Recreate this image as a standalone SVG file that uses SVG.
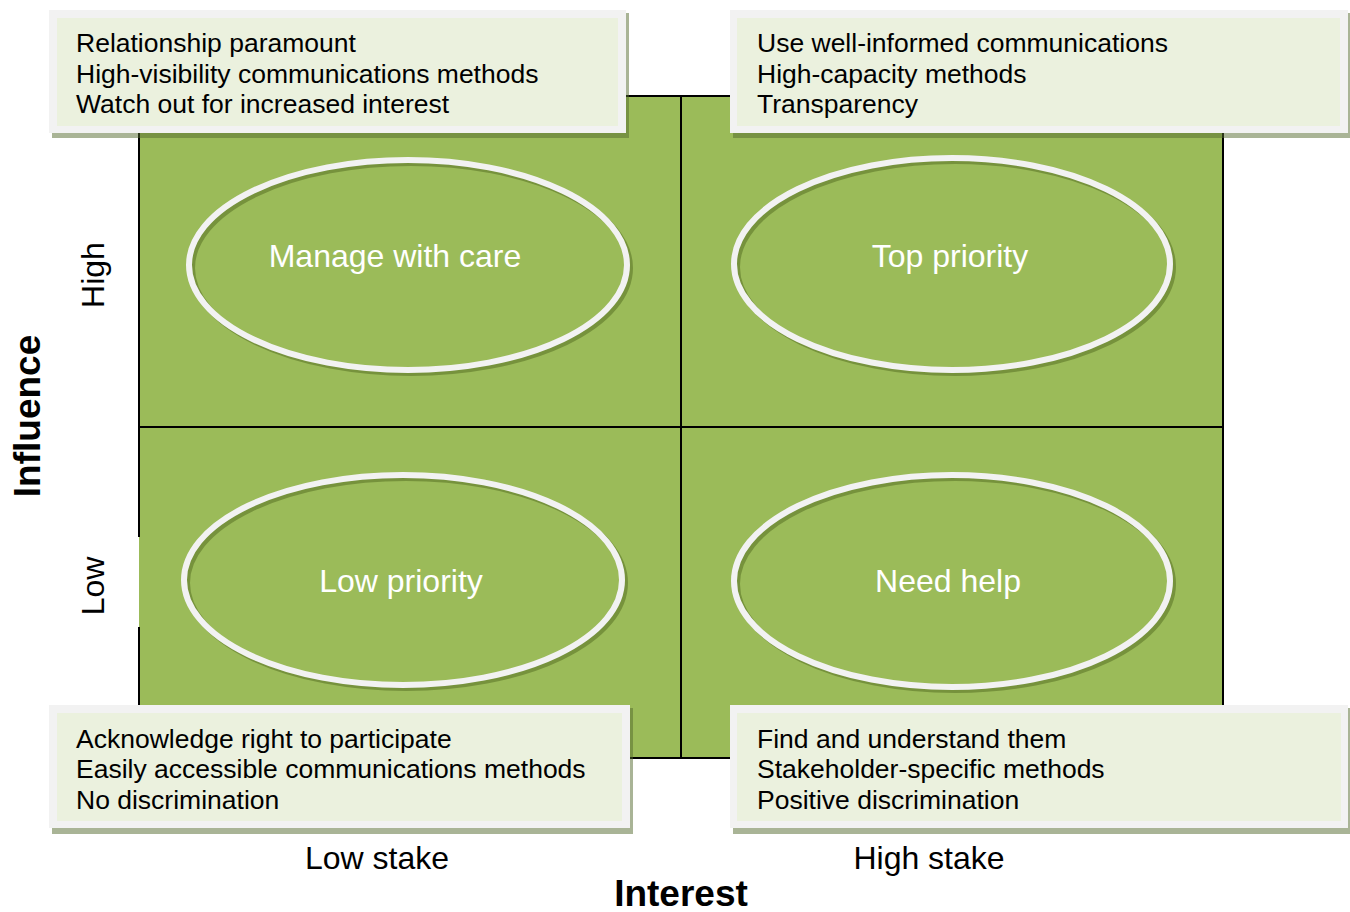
<svg xmlns="http://www.w3.org/2000/svg" width="1350" height="912" viewBox="0 0 1350 912">
  <style>
    .cell { fill: #9BBB59; }
    .rule { stroke: #000; stroke-width: 2; fill: none; }
    .ring-shadow { fill: none; stroke: #76923C; stroke-width: 6; }
    .ring { fill: none; stroke: #F2F2F2; stroke-width: 6; }
    .ring-text { font-family: "Liberation Sans", Arial, sans-serif; font-size: 32px; fill: #FFFFFF; text-anchor: middle; }
    .note-shadow { fill: rgba(83,105,45,0.5); }
    .note-frame { fill: #F2F2F2; }
    .note-fill { fill: #EBF1DE; }
    .note-text { font-family: "Liberation Sans", Arial, sans-serif; font-size: 26.5px; fill: #000; }
    .axis { font-family: "Liberation Sans", Arial, sans-serif; font-size: 32px; fill: #000; text-anchor: middle; }
    .axis-title { font-family: "Liberation Sans", Arial, sans-serif; font-size: 37px; font-weight: bold; fill: #000; text-anchor: middle; }
  </style>

  <rect width="1350" height="912" fill="#FFFFFF"/>

  <!-- quadrant grid -->
  <g id="grid">
    <rect class="cell" x="139" y="96" width="1084" height="662"/>
    <g id="connectors">
      <line class="rule" x1="139" y1="96" x2="1223" y2="96"/>
      <line class="rule" x1="139" y1="758" x2="1223" y2="758"/>
      <line class="rule" x1="1223" y1="96" x2="1223" y2="758"/>
      <line class="rule" x1="139" y1="96" x2="139" y2="537"/>
      <line class="rule" x1="139" y1="627" x2="139" y2="758"/>
      <line class="rule" x1="681" y1="96" x2="681" y2="758"/>
      <line class="rule" x1="139" y1="427" x2="1223" y2="427"/>
    </g>
  </g>

  <!-- quadrant rings -->
  <g id="manage-with-care">
    <ellipse class="ring-shadow" cx="411" cy="268" rx="219" ry="105"/>
    <ellipse class="ring" cx="408" cy="265" rx="219" ry="105"/>
    <text class="ring-text" x="395" y="267">Manage with care</text>
  </g>
  <g id="top-priority">
    <ellipse class="ring-shadow" cx="955" cy="267" rx="218" ry="106"/>
    <ellipse class="ring" cx="952" cy="264" rx="218" ry="106"/>
    <text class="ring-text" x="950" y="267">Top priority</text>
  </g>
  <g id="low-priority">
    <ellipse class="ring-shadow" cx="406" cy="583" rx="219" ry="105"/>
    <ellipse class="ring" cx="403" cy="580" rx="219" ry="105"/>
    <text class="ring-text" x="401" y="592">Low priority</text>
  </g>
  <g id="need-help">
    <ellipse class="ring-shadow" cx="955" cy="584" rx="218" ry="106"/>
    <ellipse class="ring" cx="952" cy="581" rx="218" ry="106"/>
    <text class="ring-text" x="948" y="592">Need help</text>
  </g>

  <!-- guidance notes -->
  <g id="note-top-left">
    <rect class="note-shadow" x="52" y="13" width="577" height="125"/>
    <rect class="note-frame" x="49" y="10" width="577" height="123"/>
    <rect class="note-fill" x="57" y="18" width="561" height="108"/>
    <text class="note-text" x="76" y="52">Relationship paramount</text>
    <text class="note-text" x="76" y="83">High-visibility communications methods</text>
    <text class="note-text" x="76" y="113">Watch out for increased interest</text>
  </g>
  <g id="note-top-right">
    <rect class="note-shadow" x="733" y="13" width="617" height="125"/>
    <rect class="note-frame" x="730" y="10" width="618" height="123"/>
    <rect class="note-fill" x="737" y="18" width="603" height="108"/>
    <text class="note-text" x="757" y="52">Use well-informed communications</text>
    <text class="note-text" x="757" y="83">High-capacity methods</text>
    <text class="note-text" x="757" y="113">Transparency</text>
  </g>
  <g id="note-bottom-left">
    <rect class="note-shadow" x="52" y="708" width="581" height="126"/>
    <rect class="note-frame" x="49" y="705" width="581" height="123"/>
    <rect class="note-fill" x="57" y="713" width="565" height="108"/>
    <text class="note-text" x="76" y="748">Acknowledge right to participate</text>
    <text class="note-text" x="76" y="778">Easily accessible communications methods</text>
    <text class="note-text" x="76" y="809">No discrimination</text>
  </g>
  <g id="note-bottom-right">
    <rect class="note-shadow" x="733" y="708" width="617" height="126"/>
    <rect class="note-frame" x="730" y="705" width="618" height="123"/>
    <rect class="note-fill" x="737" y="713" width="604" height="108"/>
    <text class="note-text" x="757" y="748">Find and understand them</text>
    <text class="note-text" x="757" y="778">Stakeholder-specific methods</text>
    <text class="note-text" x="757" y="809">Positive discrimination</text>
  </g>

  <!-- axis labels -->
  <g id="axis-labels">
    <text class="axis" x="377" y="869">Low stake</text>
    <text class="axis" x="929" y="869">High stake</text>
    <text class="axis-title" x="681" y="906">Interest</text>
    <text class="axis-title" transform="translate(40,416) rotate(-90)">Influence</text>
    <text class="axis" transform="translate(104,275) rotate(-90)">High</text>
    <text class="axis" transform="translate(104,586) rotate(-90)">Low</text>
  </g>
</svg>
